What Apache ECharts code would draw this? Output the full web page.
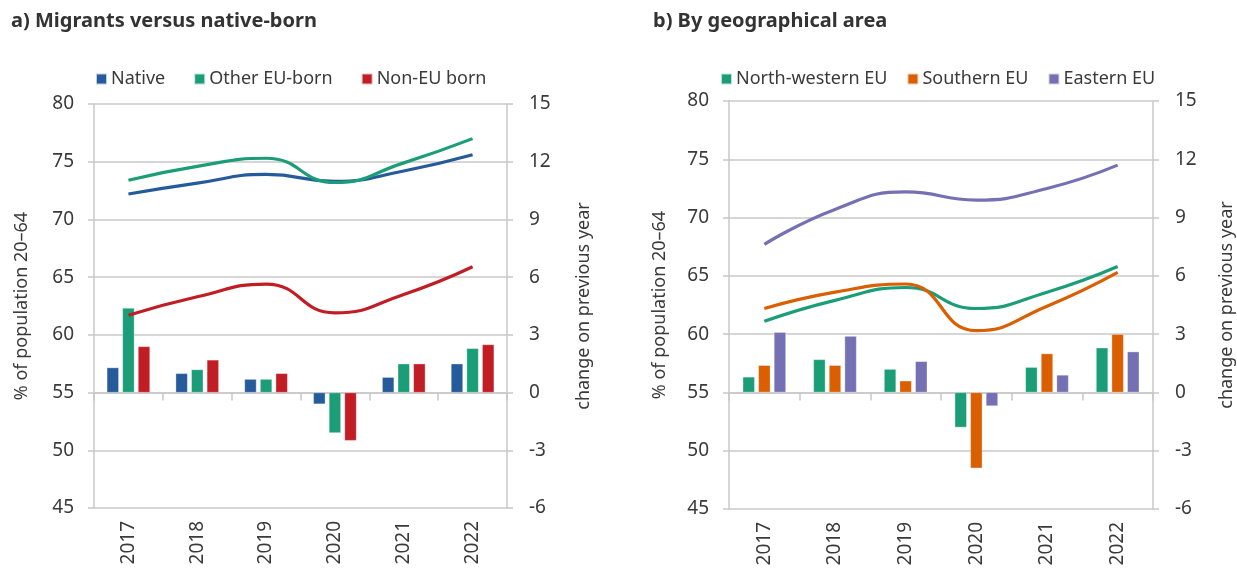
<!DOCTYPE html>
<html><head><meta charset="utf-8">
<script src="https://cdn.jsdelivr.net/npm/echarts@6/dist/echarts.min.js"></script>
<style>html,body{margin:0;padding:0;background:#fff}#c{width:1237px;height:570px}</style>
</head><body><div id="c"></div>
<script>
const years = ['2017','2018','2019','2020','2021','2022'];
const leftTicks = {min:45, max:80, interval:5};
const rightTicks = {min:-6, max:15, interval:3};

// Panel a: employment rate (%) lines
const nativeRate   = [72.2, 73.15, 73.9, 73.3, 74.2, 75.6];
const otherEURate  = [73.4, 74.6, 75.3, 73.2, 74.9, 77.0];
const nonEURate    = [61.7, 63.3, 64.4, 61.9, 63.5, 65.9];
// Panel a: change on previous year (bars)
const nativeChg    = [1.3, 1.0, 0.7, -0.6, 0.8, 1.5];
const otherEUChg   = [4.4, 1.2, 0.7, -2.1, 1.5, 2.3];
const nonEUChg     = [2.4, 1.7, 1.0, -2.5, 1.5, 2.5];

// Panel b: employment rate (%) lines
const nwRate       = [61.1, 62.9, 64.0, 62.2, 63.6, 65.8];
const southRate    = [62.2, 63.6, 64.3, 60.3, 62.4, 65.3];
const eastRate     = [67.7, 70.7, 72.2, 71.5, 72.5, 74.5];
// Panel b: change on previous year (bars)
const nwChg        = [0.8, 1.7, 1.2, -1.8, 1.3, 2.3];
const southChg     = [1.4, 1.4, 0.6, -3.9, 2.0, 3.0];
const eastChg      = [3.1, 2.9, 1.6, -0.7, 0.9, 2.1];

const namesA = ['Native','Other EU-born','Non-EU born'];
const namesB = ['North-western EU','Southern EU','Eastern EU'];
const colA = ['#255a9b','#1b9e77','#c11d25'];
const colB = ['#1b9e77','#d95f02','#7570b3'];

const FONT = 'Noto Sans';
const txt = '#3a3a3a';
const gridCol = '#c8c8c8';

function xAxis(gi){
  return {type:'category', gridIndex:gi, data:years, boundaryGap:true,
    axisLine:{lineStyle:{color:gridCol,width:1.5}},
    axisTick:{show:true,length:8,lineStyle:{color:gridCol,width:1.5}},
    axisLabel:{rotate:90,color:txt,fontSize:19,fontFamily:FONT,margin:13}};
}
function yLeft(gi,gap){
  return {type:'value', gridIndex:gi, position:'left', ...leftTicks,
    name:'% of population 20\u201364', nameLocation:'middle', nameGap:gap, nameRotate:90,
    nameTextStyle:{color:txt,fontSize:18,fontFamily:FONT},
    axisLine:{show:true,lineStyle:{color:gridCol,width:1.5}},
    axisTick:{show:true,length:6,lineStyle:{color:gridCol,width:1.5}},
    splitLine:{show:true,lineStyle:{color:gridCol,width:1.5}},
    axisLabel:{color:txt,fontSize:19,fontFamily:FONT,margin:20}};
}
function yRight(gi,gap){
  return {type:'value', gridIndex:gi, position:'right', ...rightTicks,
    name:'change on previous year', nameLocation:'middle', nameGap:gap, nameRotate:90,
    nameTextStyle:{color:txt,fontSize:18,fontFamily:FONT},
    axisLine:{show:true,lineStyle:{color:gridCol,width:1.5}},
    axisTick:{show:true,length:6,lineStyle:{color:gridCol,width:1.5}},
    splitLine:{show:false},
    axisLabel:{color:txt,fontSize:19,fontFamily:FONT,margin:22}};
}
function bar(name,data,color,xi,yi){
  return {type:'bar',name,data,xAxisIndex:xi,yAxisIndex:yi,barWidth:12,barGap:'30%',
    itemStyle:{color,borderColor:'rgba(255,255,255,0.7)',borderWidth:0.5},z:2};
}
function line(name,data,color,xi,yi){
  return {type:'line',name,data,xAxisIndex:xi,yAxisIndex:yi,smooth:0.5,symbol:'none',
    lineStyle:{color,width:3.2},itemStyle:{color},z:5};
}

const option = {
  animation:false,
  textStyle:{fontFamily:FONT},
  title:[
    {text:'a) Migrants versus native-born',left:6,top:6,textStyle:{fontSize:20,fontWeight:'bold',color:'#333',fontFamily:FONT}},
    {text:'b) By geographical area',left:648,top:6,textStyle:{fontSize:20,fontWeight:'bold',color:'#333',fontFamily:FONT}}
  ],
  legend:[
    {data:namesA.map(n=>({name:n,icon:'rect'})),left:90,top:65,itemWidth:11,itemHeight:11,itemGap:28,
      textStyle:{fontSize:18,color:txt,fontFamily:FONT,padding:[0,0,0,-1]}},
    {data:namesB.map(n=>({name:n,icon:'rect'})),left:715,top:65,itemWidth:11,itemHeight:11,itemGap:19,
      textStyle:{fontSize:18,color:txt,fontFamily:FONT,padding:[0,0,0,-1]}}
  ],
  grid:[
    {left:94,right:730,top:104,bottom:62},
    {left:729,right:83,top:101,bottom:61}
  ],
  xAxis:[xAxis(0),xAxis(1)],
  yAxis:[yLeft(0,63),yRight(0,68),yLeft(1,60),yRight(1,65)],
  series:[
    bar(namesA[0],nativeChg,colA[0],0,1),
    bar(namesA[1],otherEUChg,colA[1],0,1),
    bar(namesA[2],nonEUChg,colA[2],0,1),
    line(namesA[0],nativeRate,colA[0],0,0),
    line(namesA[1],otherEURate,colA[1],0,0),
    line(namesA[2],nonEURate,colA[2],0,0),
    bar(namesB[0],nwChg,colB[0],1,3),
    bar(namesB[1],southChg,colB[1],1,3),
    bar(namesB[2],eastChg,colB[2],1,3),
    line(namesB[0],nwRate,colB[0],1,2),
    line(namesB[1],southRate,colB[1],1,2),
    line(namesB[2],eastRate,colB[2],1,2)
  ]
};
const chart = echarts.init(document.getElementById('c'),null,{renderer:'canvas'});
chart.setOption(option);
</script></body></html>
